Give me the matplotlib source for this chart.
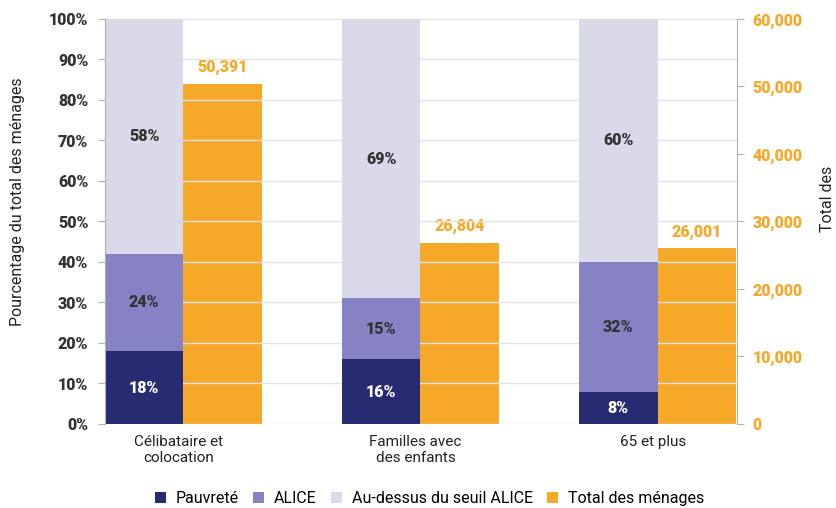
import matplotlib.pyplot as plt
import numpy as np

plt.rcParams['font.family'] = ['Roboto', 'DejaVu Sans']

categories = ["Célibataire et\ncolocation", "Familles avec\ndes enfants", "65 et plus"]
pauvrete = [18, 16, 8]
alice = [24, 15, 32]
au_dessus = [58, 69, 60]
total = [50391, 26804, 26001]

c_pauv = '#262b72'
c_alice = '#8682c4'
c_above = '#dad9ea'
c_total = '#f6a828'
grey = '#b0b0b0'

fig = plt.figure(figsize=(8.37, 5.08), dpi=100)
ax = fig.add_axes([0.1255, 0.1654, 0.755, 0.7972])
ax2 = ax.twinx()

x = np.arange(len(categories))
w = 0.33

ax.bar(x - w / 2, pauvrete, w, color=c_pauv, zorder=2, label='Pauvreté')
ax.bar(x - w / 2, alice, w, bottom=pauvrete, color=c_alice, zorder=2, label='ALICE')
b2 = np.array(pauvrete) + np.array(alice)
ax.bar(x - w / 2, au_dessus, w, bottom=b2, color=c_above, zorder=2,
       label='Au-dessus du seuil ALICE')
ax2.bar(x + w / 2, total, w, color=c_total, zorder=2, label='Total des ménages')

for i in range(len(x)):
    ax.text(x[i] - w / 2, pauvrete[i] / 2, f"{pauvrete[i]}%", ha='center', va='center',
            color='white', fontsize=11.5, fontweight='heavy')
    ax.text(x[i] - w / 2, pauvrete[i] + alice[i] / 2, f"{alice[i]}%", ha='center',
            va='center', color='#333333', fontsize=11.5, fontweight='heavy')
    ax.text(x[i] - w / 2, b2[i] + au_dessus[i] / 2, f"{au_dessus[i]}%", ha='center',
            va='center', color='#333333', fontsize=11.5, fontweight='heavy')
    ax2.text(x[i] + w / 2, total[i] + 1300, f"{total[i]:,}", ha='center', va='bottom',
             color=c_total, fontsize=11.5, fontweight='heavy')

ax.set_xlim(-w, 2 + w + 0.005)
ax.set_ylim(0, 100)
ax2.set_ylim(0, 60000)
ax.set_yticks(np.arange(0, 101, 10))
ax.set_yticklabels([f"{v}%" for v in range(0, 101, 10)])
ax2.set_yticks(np.arange(0, 60001, 10000))
ax2.set_yticklabels([f"{v:,}" for v in range(0, 60001, 10000)])
ax.set_xticks(x - 0.02)
ax.set_xticklabels(categories, fontsize=11, color='#222222')
ax.tick_params(axis='x', length=0, pad=8)

ax.grid(axis='y', color='#e4e4e4', linewidth=1, zorder=0)
ax.set_axisbelow(True)
ax.set_zorder(ax2.get_zorder() + 1)
ax.patch.set_visible(False)

for s in ['top', 'bottom', 'right']:
    ax.spines[s].set_visible(False)
for s in ['top', 'bottom', 'left']:
    ax2.spines[s].set_visible(False)
ax.spines['left'].set_color(grey)
ax2.spines['right'].set_color(grey)
ax.tick_params(axis='y', colors=grey, length=5, labelsize=11.5, pad=7)
ax2.tick_params(axis='y', colors=grey, length=5, labelsize=11.5, pad=6)
for t in ax.get_yticklabels():
    t.set_color('#333333')
    t.set_fontweight('heavy')
for t in ax2.get_yticklabels():
    t.set_color(c_total)
    t.set_fontweight('heavy')

ax.set_ylabel('Pourcentage du total des ménages', fontsize=11.5, color='#222222')
ax.yaxis.set_label_coords(-0.126, 0.548)
fig.text(0.989, 0.543, 'Total des', rotation=90, fontsize=11.5, color='#222222',
         ha='center', va='bottom')

h1, l1 = ax.get_legend_handles_labels()
h2, l2 = ax2.get_legend_handles_labels()
fig.legend(h1 + h2, l1 + l2, loc='lower center', bbox_to_anchor=(0.513, -0.025), ncol=4,
           frameon=False, fontsize=11.5, handlelength=0.7, handleheight=0.7,
           handletextpad=0.6, columnspacing=0.9)

plt.savefig('out.png', dpi=100)
